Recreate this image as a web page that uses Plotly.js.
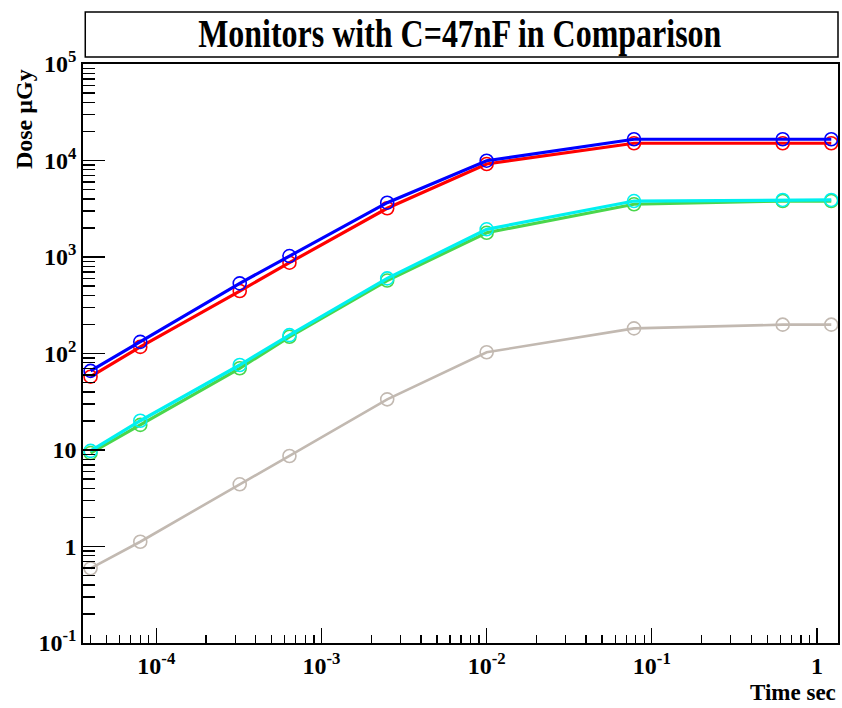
<!DOCTYPE html>
<html>
<head>
<meta charset="utf-8">
<script src="https://cdn.plot.ly/plotly-3.0.1.min.js"></script>
<style>html,body{margin:0;padding:0;background:#fff;}#chart{width:842px;height:708px;}</style>
</head>
<body>
<div id="chart"></div>
<script>
// Time in seconds
var timeSec = [4e-5, 8e-5, 3.2e-4, 6.4e-4, 2.5e-3, 1e-2, 7.8e-2, 0.62, 1.22];
// Dose in µGy for each monitor
var doseBlue  = [66, 132, 533, 1023, 3655, 9950, 16600, 16600, 16600];
var doseRed   = [57.5, 117, 444, 873, 3199, 9200, 15100, 15100, 15100];
var doseCyan  = [9.8, 20.1, 76, 155, 600, 1936, 3800, 3900, 3900];
var doseGreen = [9.3, 18.2, 70.3, 149, 570, 1785, 3520, 3800, 3800];
var doseGrey  = [0.594, 1.12, 4.41, 8.67, 33.5, 103, 182, 199, 199];

var xTickVals = [1e-4, 1e-3, 1e-2, 1e-1, 1];
var xTickText = ['10<sup>-4</sup>', '10<sup>-3</sup>', '10<sup>-2</sup>', '10<sup>-1</sup>', '1'];
var yTickVals = [0.1, 1, 10, 100, 1000, 10000, 100000];
var yTickText = ['10<sup>-1</sup>', '1', '10', '10<sup>2</sup>', '10<sup>3</sup>', '10<sup>4</sup>', '10<sup>5</sup>'];

var titleText = 'Monitors with C=47nF in Comparison';
var xTitle = 'Time sec';
var yTitle = 'Dose \u00b5Gy';

function series(y, color, w) {
  return {
    x: timeSec, y: y, type: 'scatter', mode: 'lines+markers',
    line: {color: color, width: w},
    marker: {symbol: 'circle-open', size: 13, color: color, line: {width: 1.6, color: color}},
    hoverinfo: 'skip', showlegend: false, cliponaxis: false
  };
}

var data = [
  series(doseGrey, '#c2b9b1', 2.6),
  series(doseGreen, '#4bd64b', 3.2),
  series(doseCyan, '#00f0f0', 3.2),
  series(doseRed, '#ff0000', 3.2),
  series(doseBlue, '#0000ff', 3.2)
];

var serif = 'Liberation Serif, Times New Roman, serif';

var layout = {
  width: 842, height: 708,
  margin: {l: 83, r: 4, t: 64, b: 65},
  paper_bgcolor: '#fff', plot_bgcolor: '#fff',
  showlegend: false,
  title: {text: '<b>' + titleText + '</b>', font: {family: serif, size: 41, color: '#000'},
          x: 0.546, xanchor: 'center', y: 0.954, yanchor: 'middle', yref: 'container'},
  xaxis: {
    type: 'log', range: [Math.log10(3.6e-5), Math.log10(1.34)],
    tickmode: 'array', tickvals: xTickVals, ticktext: xTickText,
    ticks: 'inside', ticklen: 15, tickwidth: 1.2, tickcolor: '#000',
    minor: {ticks: 'inside', ticklen: 8, tickwidth: 1.2, tickcolor: '#000', dtick: 'D1', showgrid: false},
    showgrid: false, zeroline: false,
    showline: true, linecolor: '#000', linewidth: 1.8, mirror: true,
    tickfont: {family: serif, size: 24, color: '#000', weight: 'bold'}
  },
  yaxis: {
    type: 'log', range: [-1, 5],
    tickmode: 'array', tickvals: yTickVals, ticktext: yTickText,
    ticks: 'inside', ticklen: 22, tickwidth: 1.2, tickcolor: '#000',
    minor: {ticks: 'inside', ticklen: 12, tickwidth: 1.2, tickcolor: '#000', dtick: 'D1', showgrid: false},
    showgrid: false, zeroline: false,
    showline: true, linecolor: '#000', linewidth: 1.8, mirror: true,
    tickfont: {family: serif, size: 24, color: '#000', weight: 'bold'}
  },
  shapes: [
    {type: 'rect', xref: 'paper', yref: 'paper', x0: 0.003, x1: 1, y0: 1.0121, y1: 1.0898,
     line: {color: '#000', width: 1.5}, fillcolor: 'rgba(0,0,0,0)'}
  ],
  annotations: [
    {text: '<b>' + xTitle + '</b>', xref: 'paper', yref: 'paper', x: 1, y: -0.086,
     xanchor: 'right', yanchor: 'middle', showarrow: false,
     font: {family: serif, size: 23, color: '#000'}},
    {text: '<b>' + yTitle + '</b>', xref: 'paper', yref: 'paper', x: -0.078, y: 0.905,
     xanchor: 'center', yanchor: 'middle', textangle: -90, showarrow: false,
     font: {family: serif, size: 24, color: '#000'}}
  ]
};

Plotly.newPlot('chart', data, layout, {displayModeBar: false, staticPlot: true}).then(function (gd) {
  // Condense the title horizontally like the reference's narrow serif face
  var t = gd.querySelector('.gtitle');
  if (t) {
    var bb = t.getBBox();
    var cx = bb.x + bb.width / 2, cy = bb.y + bb.height / 2;
    t.setAttribute('transform', 'translate(' + cx + ',' + cy + ') scale(0.78,1) translate(' + (-cx) + ',' + (-cy) + ')');
  }
});
</script>
</body>
</html>
